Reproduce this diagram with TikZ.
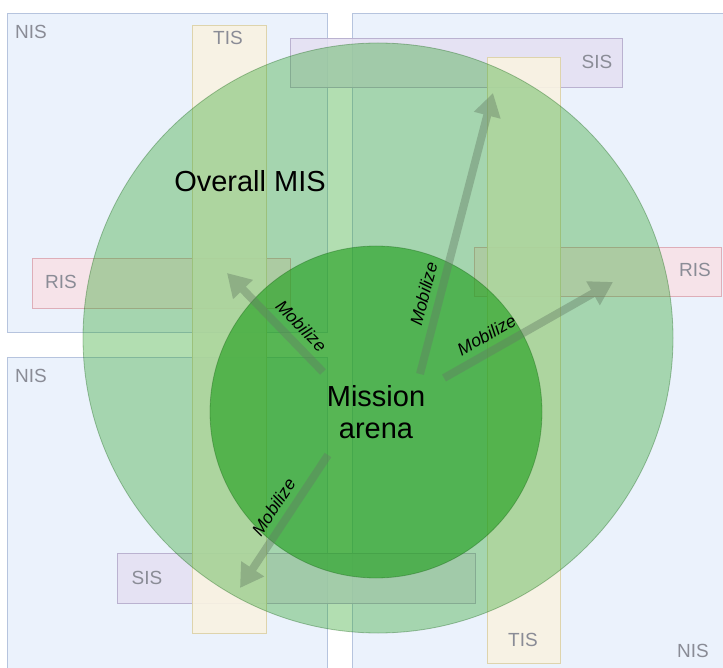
\documentclass[tikz,border=0pt]{standalone}
\usepackage{fontspec}
\setmainfont{Liberation Sans}
\usetikzlibrary{arrows.meta}

\definecolor{nisfill}{RGB}{235,242,252}
\definecolor{nisline}{RGB}{182,196,222}
\definecolor{tisfill}{RGB}{249,243,226}
\definecolor{tisline}{RGB}{222,212,172}
\definecolor{sisfill}{RGB}{229,224,242}
\definecolor{sisline}{RGB}{186,178,208}
\definecolor{risfill}{RGB}{248,225,230}
\definecolor{risline}{RGB}{222,174,184}
\definecolor{misgreen}{RGB}{35,160,32}
\definecolor{mobgray}{RGB}{100,124,100}
\definecolor{taggray}{RGB}{138,140,150}

\tikzset{
  nis/.style={draw=nisline, fill=nisfill, line width=0.8pt},
  tis/.style={draw=tisline, fill=tisfill, fill opacity=0.9, line width=0.8pt},
  sis/.style={draw=sisline, fill=sisfill, fill opacity=0.85, line width=0.8pt},
  ris/.style={draw=risline, fill=risfill, fill opacity=0.85, line width=0.8pt},
  tag/.style={text=taggray, font=\fontsize{19}{22}\selectfont, inner sep=0pt},
  misdisc/.style={circle, inner sep=0pt, outer sep=0pt, fill=misgreen,
    draw=misgreen!60!black, draw opacity=0.35, line width=0.8pt, text opacity=1},
  mobarrow/.style={draw=mobgray, line width=8pt,
    -{Triangle[width=26pt,length=23pt]}},
  mob/.style={font=\fontsize{17.5}{20}\selectfont\itshape, sloped, above=10pt, inner sep=0pt}
}

\begin{document}
\begin{tikzpicture}[x=1pt, y=-1pt]
\useasboundingbox (0,0) rectangle (723,668);
\clip (0,0) rectangle (723,668);

% network areas
\draw[nis] (7,13) rectangle (327,332);
\draw[nis] (7,357) rectangle (327,680);
\draw[nis] (352,13) rectangle (735,680);
\node[tag] (nisA) at (31,32) {NIS};
\node[tag] (nisB) at (31,376) {NIS};
\node[tag] (nisC) at (693,651) {NIS};

% sensor / resource / transport strips
\draw[sis] (290,38) rectangle (622,87);
\draw[sis] (117,553) rectangle (475,603);
\draw[ris] (32,258) rectangle (290,308);
\draw[ris] (474,247) rectangle (721,296);
\draw[tis] (192,25) rectangle (266,633);
\draw[tis] (487,57) rectangle (560,663);
\node[tag] (sisA) at (597,62) {SIS};
\node[tag] (sisB) at (147,578) {SIS};
\node[tag] (risA) at (61,282) {RIS};
\node[tag] (risB) at (695,270) {RIS};
\node[tag] (tisA) at (228,38) {TIS};
\node[tag] (tisB) at (523,640) {TIS};

% MIS and the mission arena
\node[misdisc, fill opacity=0.35, minimum size=590pt] (mis) at (378,338) {};
\node[misdisc, fill opacity=0.64, minimum size=332pt, align=center,
      font=\fontsize{29}{32}\selectfont] (arena) at (376,412) {Mission\\arena};
\node[font=\fontsize{29}{32}\selectfont, inner sep=0pt] (overall) at (250,181) {Overall MIS};

% mobilize arrows
\coordinate (tW) at (323,372);  \coordinate (hW) at (227,273);
\coordinate (tN) at (420,374);  \coordinate (hN) at (493,93);
\coordinate (tE) at (444,378);  \coordinate (hE) at (613,282);
\coordinate (tS) at (328,455);  \coordinate (hS) at (240,588);
\foreach \d in {W,N,E,S}{
  \begin{scope}[transparency group, opacity=0.42]
    \draw[mobarrow] (t\d) -- (h\d);
  \end{scope}
}
\path (tW) -- (hW) node[mob, pos=0.35] {Mobilize};
\path (tN) -- (hN) node[mob, pos=0.27] {Mobilize};
\path (tE) -- (hE) node[mob, pos=0.3] {Mobilize};
\path (tS) -- (hS) node[mob, pos=0.46] {Mobilize};
\end{tikzpicture}
\end{document}
